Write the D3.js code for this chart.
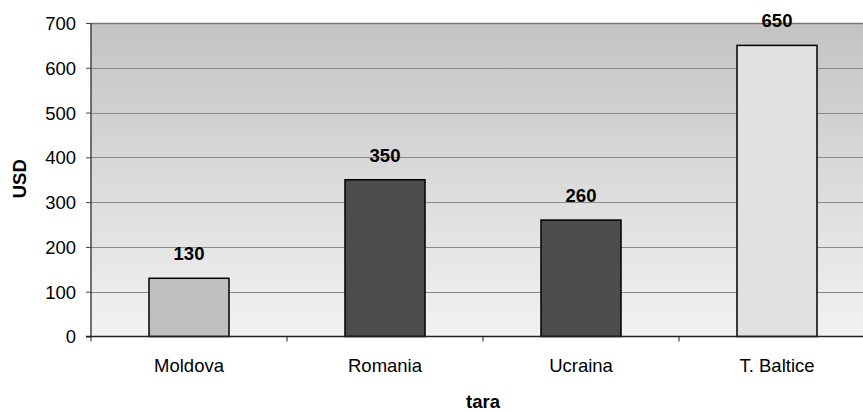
<!DOCTYPE html>
<html><head><meta charset="utf-8">
<script src="https://cdn.jsdelivr.net/npm/d3@7"></script>
<style>body{margin:0;background:#fff;overflow:hidden}svg{display:block;font-family:"Liberation Sans",Arial,sans-serif}</style>
</head><body>
<svg id="c" width="863" height="412"></svg>
<script>
const categories = ["Moldova", "Romania", "Ucraina", "T. Baltice"];
const values = [130, 350, 260, 650];
const barColors = ["#c0c0c0", "#4d4d4d", "#4d4d4d", "#e1e1e1"];
const yTicks = [0, 100, 200, 300, 400, 500, 600, 700];

(function () {
const svg = d3.select("#c");
const pLeft = 91, pTop = 23, pBottom = 336.5, bandW = 196;
const pRight = pLeft + bandW * categories.length;
const FS = 18.5;

const x = d3.scaleBand().domain(categories).range([pLeft, pRight]).paddingInner(0).paddingOuter(0);
const y = d3.scaleLinear().domain([0, 700]).range([pBottom, pTop]);

const defs = svg.append("defs");
const g = defs.append("linearGradient").attr("id", "bg").attr("x1", 0).attr("y1", 0).attr("x2", 0).attr("y2", 1);
g.append("stop").attr("offset", "0%").attr("stop-color", "#c3c3c3");
g.append("stop").attr("offset", "100%").attr("stop-color", "#f2f2f2");

svg.append("rect").attr("x", pLeft).attr("y", pTop).attr("width", pRight - pLeft).attr("height", pBottom - pTop).attr("fill", "url(#bg)");

svg.append("g").selectAll("line").data(yTicks.filter(d => d > 0)).join("line")
  .attr("x1", pLeft).attr("x2", pRight).attr("y1", d => Math.round(y(d)) + 0.5).attr("y2", d => Math.round(y(d)) + 0.5)
  .attr("stroke", d => d === 700 ? "#777" : "#8a8a8a").attr("stroke-width", d => d === 700 ? 1.5 : 1);

svg.append("g").selectAll("rect").data(values).join("rect")
  .attr("x", (d, i) => x(categories[i]) + (bandW - 80) / 2)
  .attr("width", 80)
  .attr("y", d => y(d))
  .attr("height", d => pBottom - y(d))
  .attr("fill", (d, i) => barColors[i])
  .attr("stroke", "#000").attr("stroke-width", 1.5);

svg.append("g").selectAll("text").data(values).join("text")
  .attr("x", (d, i) => x(categories[i]) + bandW / 2)
  .attr("y", d => y(d) - 18)
  .attr("text-anchor", "middle").attr("font-weight", "bold").attr("font-size", FS).attr("fill", "#000")
  .text(d => d);

const ya = svg.append("g").attr("transform", `translate(${pLeft},0)`)
  .call(d3.axisLeft(y).tickValues(yTicks).tickSize(5).tickPadding(10));
ya.select(".domain").attr("stroke", "#444").attr("stroke-width", 1.5).attr("d", `M0,${pTop}V${pBottom}`);
ya.selectAll(".tick line").attr("stroke", "#444");
ya.selectAll(".tick text").attr("font-size", FS).attr("dy", "0.35em").attr("fill", "#000").attr("font-family", "Liberation Sans, Arial, sans-serif");

const xa = svg.append("g").attr("transform", `translate(0,${pBottom})`)
  .call(d3.axisBottom(x).tickSize(0));
xa.select(".domain").attr("stroke", "#222").attr("stroke-width", 1.5).attr("d", `M${pLeft - 5},0H${pRight}`);
xa.selectAll(".tick text").attr("y", 35.5).attr("dy", null).attr("font-size", FS).attr("fill", "#000").attr("font-family", "Liberation Sans, Arial, sans-serif");
svg.append("g").selectAll("line").data(d3.range(categories.length)).join("line")
  .attr("x1", i => pLeft + i * bandW).attr("x2", i => pLeft + i * bandW)
  .attr("y1", pBottom).attr("y2", pBottom + 5).attr("stroke", "#222");

svg.append("text").attr("transform", `translate(25.5,${(pTop + pBottom) / 2 - 1}) rotate(-90)`)
  .attr("text-anchor", "middle").attr("font-weight", "bold").attr("font-size", FS).text("USD");
svg.append("text").attr("x", pLeft + 2 * bandW).attr("y", 407.5)
  .attr("text-anchor", "middle").attr("font-weight", "bold").attr("font-size", FS).text("tara");
})();
</script>
</body></html>
